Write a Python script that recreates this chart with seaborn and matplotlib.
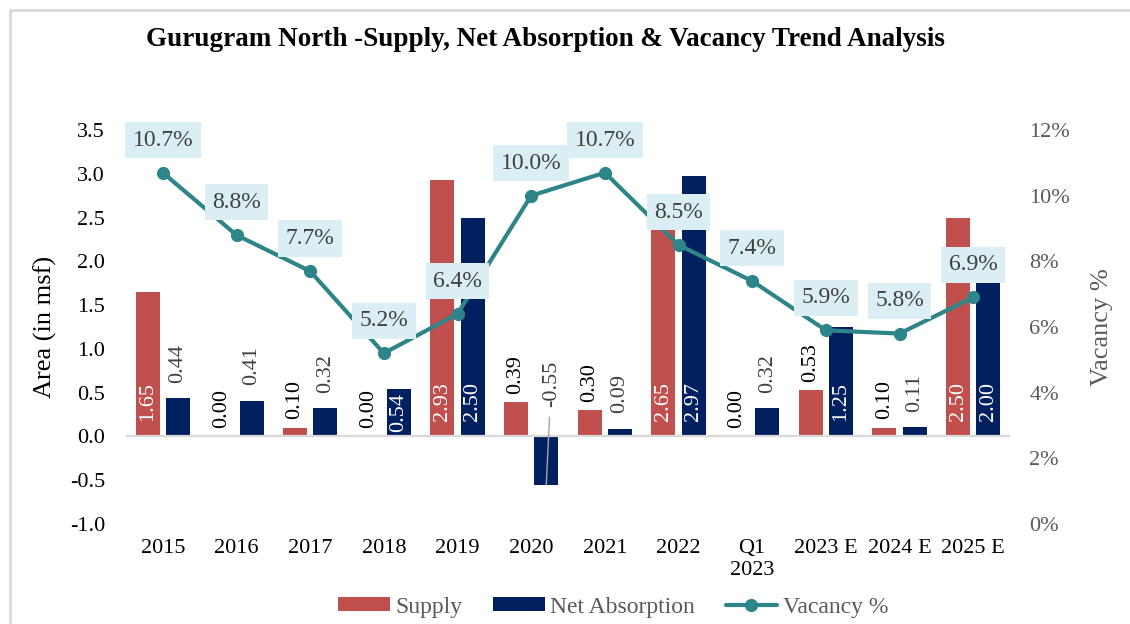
import numpy as np
import pandas as pd
import matplotlib
matplotlib.use("Agg")
import matplotlib.pyplot as plt
from matplotlib.patches import Patch
from matplotlib.lines import Line2D
import seaborn as sns

# ---- data ----
periods = ["2015", "2016", "2017", "2018", "2019", "2020", "2021", "2022",
           "Q1\n2023", "2023 E", "2024 E", "2025 E"]
supply = [1.65, 0.00, 0.10, 0.00, 2.93, 0.39, 0.30, 2.65, 0.00, 0.53, 0.10, 2.50]
net_absorption = [0.44, 0.41, 0.32, 0.54, 2.50, -0.55, 0.09, 2.97, 0.32, 1.25, 0.11, 2.00]
vacancy = [10.7, 8.8, 7.7, 5.2, 6.4, 10.0, 10.7, 8.5, 7.4, 5.9, 5.8, 6.9]

left_ticks = [-1.0, -0.5, 0.0, 0.5, 1.0, 1.5, 2.0, 2.5, 3.0, 3.5]
right_ticks = [0, 2, 4, 6, 8, 10, 12]

title = "Gurugram North -Supply, Net Absorption & Vacancy Trend Analysis"

# ---- style ----
RED = "#C0504D"
NAVY = "#002060"
TEAL = "#2E8589"
LABEL_BG = "#DAEEF3"
DARK = "#404040"
GREY = "#595959"

sns.set_theme(style="white")
plt.rcParams["font.family"] = ["Liberation Serif", "DejaVu Serif"]

W, H = 1130, 624
fig = plt.figure(figsize=(W / 100, H / 100), dpi=100)
ax = fig.add_axes([126 / W, 100 / H, 884 / W, 394 / H])

df = pd.DataFrame({
    "Period": periods * 2,
    "Series": ["Supply"] * len(periods) + ["Net Absorption"] * len(periods),
    "Value": supply + net_absorption,
})
sns.barplot(data=df, x="Period", y="Value", hue="Series",
            hue_order=["Supply", "Net Absorption"],
            palette={"Supply": RED, "Net Absorption": NAVY},
            width=0.82, gap=0.2, saturation=1, linewidth=0,
            legend=False, ax=ax)

ax.set_xlim(-0.5, len(periods) - 0.5)
ax.set_ylim(-1.0, 3.5)
ax.set_yticks(left_ticks)
ax.set_yticklabels([f"{t:.1f}" for t in left_ticks])
ax.axhline(0, color="#D9D9D9", lw=1.6, zorder=1)
ax.set_xlabel("")
ax.set_ylabel("Area (in msf)", fontsize=19, color="black", labelpad=9)
ax.tick_params(axis="y", length=0, pad=15, labelsize=16, labelcolor="black")
ax.tick_params(axis="x", length=0, pad=11, labelsize=16, labelcolor="black")
for s in ax.spines.values():
    s.set_visible(False)

# ---- bar value labels ----
def bar_labels(container, values, inside_min, out_color, out_offset):
    for bar, v in zip(container, values):
        x = bar.get_x() + bar.get_width() / 2
        txt = f"{v:.2f}"
        if v < 0:
            ax.annotate(txt, xy=(x, v), xytext=(3.5, 56), textcoords="offset points",
                        ha="center", va="bottom", rotation=90, fontsize=16, color=out_color,
                        arrowprops=dict(arrowstyle="-", color="#A6A6A6", lw=1,
                                        shrinkA=5, shrinkB=0))
        elif v >= 1.0:
            ax.annotate(txt, xy=(x, 0), xytext=(0, 11), textcoords="offset points",
                        ha="center", va="bottom", rotation=90, fontsize=16, color="white")
        elif v >= inside_min:
            ax.annotate(txt, xy=(x, v / 2), ha="center", va="center",
                        rotation=90, fontsize=16, color="white")
        else:
            ax.annotate(txt, xy=(x, v), xytext=(0, out_offset), textcoords="offset points",
                        ha="center", va="bottom", rotation=90, fontsize=16, color=out_color)

bar_labels(ax.containers[0], supply, 1.0, "black", 6)
bar_labels(ax.containers[1], net_absorption, 0.5, DARK, 11)

# ---- vacancy line on secondary axis ----
ax2 = ax.twinx()
sns.lineplot(x=np.arange(len(periods)), y=vacancy, ax=ax2, color=TEAL,
             linewidth=3, marker="o", markersize=9.5, markeredgewidth=0)
ax2.set_ylim(0, 12)
ax2.set_yticks(right_ticks)
ax2.set_yticklabels([f"{t}%" for t in right_ticks])
ax2.tick_params(axis="y", length=0, pad=14, labelsize=16, labelcolor=GREY)
ax2.set_ylabel("Vacancy %", fontsize=19, color=GREY, labelpad=15)
for s in ax2.spines.values():
    s.set_visible(False)

for i, v in enumerate(vacancy):
    ax2.annotate(f"{v:.1f}%", xy=(i, v), xytext=(0, 23.5), textcoords="offset points",
                 ha="center", va="center", fontsize=17, color=DARK,
                 bbox=dict(boxstyle="square,pad=0.32", fc=LABEL_BG, ec="none"))

# ---- title, legend, frame ----
fig.text(545 / W, 1 - 40 / H, title, ha="center", va="center",
         fontsize=19.5, fontweight="bold", color="black")

handles = [Patch(facecolor=RED, edgecolor="none", label="Supply"),
           Patch(facecolor=NAVY, edgecolor="none", label="Net Absorption"),
           Line2D([0], [0], color=TEAL, lw=3, marker="o", markersize=9.5,
                  markeredgewidth=0, label="Vacancy %")]
fig.legend(handles=handles, loc="center", bbox_to_anchor=(613 / W, 1 - 607 / H),
           ncol=3, frameon=False, fontsize=17, labelcolor=GREY,
           handlelength=2.2, handleheight=0.5, handletextpad=0.22, columnspacing=1.3)

# light border on the left and top of the chart area
fig.add_artist(Line2D([9.5 / W, 9.5 / W], [0, 1 - 9.5 / H], transform=fig.transFigure,
                      color="#D9D9D9", lw=2))
fig.add_artist(Line2D([9.5 / W, 1], [1 - 9.5 / H, 1 - 9.5 / H], transform=fig.transFigure,
                      color="#D9D9D9", lw=2))

fig.savefig("out.png", dpi=100)
